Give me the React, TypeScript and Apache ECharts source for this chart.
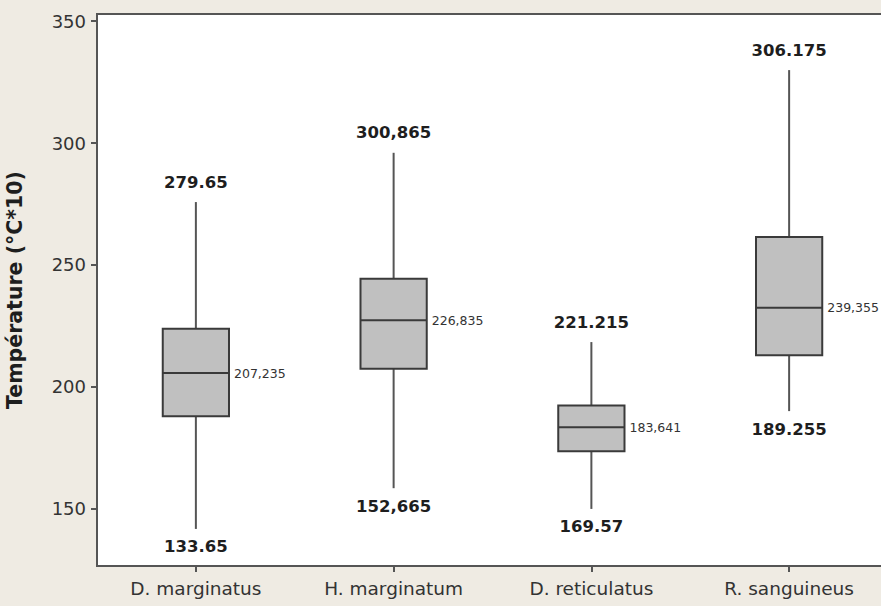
import React, { useEffect, useRef } from "react";
import * as echarts from "echarts";

const categories = ["D. marginatus", "H. marginatum", "D. reticulatus", "R. sanguineus"];
const whiskerLow = [141.8, 158.5, 150.0, 190.1];
const q1 = [188.0, 207.5, 173.6, 213.0];
const median = [205.7, 227.3, 183.5, 232.5];
const q3 = [223.9, 244.4, 192.4, 261.5];
const whiskerHigh = [275.8, 296.0, 218.4, 329.9];
const topLabels = ["279.65", "300,865", "221.215", "306.175"];
const bottomLabels = ["133.65", "152,665", "169.57", "189.255"];
const medianLabels = ["207,235", "226,835", "183,641", "239,355"];
const yTicks = [150, 200, 250, 300, 350];

const FONT = "'DejaVu Sans', Tahoma, sans-serif";

export default function App() {
  const ref = useRef<HTMLDivElement>(null);
  useEffect(() => {
    if (!ref.current) return;
    const chart = echarts.init(ref.current, undefined, { renderer: "svg" });
    const data = categories.map((c, i) => [i, whiskerLow[i], q1[i], median[i], q3[i], whiskerHigh[i]]);
    chart.setOption({
      animation: false,
      backgroundColor: "#EFEBE3",
      grid: {
        show: true,
        left: 97,
        top: 14,
        width: 791,
        height: 552,
        outerBoundsMode: "none",
        containLabel: false,
        backgroundColor: "#ffffff",
        borderColor: "#555555",
        borderWidth: 2,
      },
      xAxis: {
        type: "category",
        data: categories,
        boundaryGap: true,
        axisLine: { show: true, lineStyle: { color: "#555555", width: 2 } },
        axisTick: { show: true, alignWithLabel: true, length: 6, lineStyle: { color: "#555555", width: 2 } },
        axisLabel: { color: "#333333", fontSize: 18.5, fontFamily: FONT, margin: 13 },
        splitLine: { show: false },
      },
      yAxis: {
        type: "value",
        min: 126.6,
        max: 352.9,
        name: "Température (°C*10)",
        nameLocation: "middle",
        nameRotate: 90,
        nameGap: 72,
        nameTextStyle: { color: "#1e1e1e", fontSize: 20.5, fontWeight: "bold", fontFamily: FONT },
        axisLine: { show: true, lineStyle: { color: "#555555", width: 2 } },
        axisTick: { show: true, length: 6, customValues: yTicks, lineStyle: { color: "#555555", width: 2 } },
        axisLabel: { color: "#333333", fontSize: 18, fontFamily: FONT, margin: 11, customValues: yTicks },
        splitLine: { show: false },
      },
      series: [
        {
          type: "custom",
          clip: false,
          data,
          encode: { x: 0, y: [1, 2, 3, 4, 5] },
          renderItem: (params: any, api: any) => {
            const i = api.value(0);
            const pLow = api.coord([i, api.value(1)]);
            const pQ1 = api.coord([i, api.value(2)]);
            const pMed = api.coord([i, api.value(3)]);
            const pQ3 = api.coord([i, api.value(4)]);
            const pHigh = api.coord([i, api.value(5)]);
            const bw = api.size([1, 0])[0] * 0.335;
            const x = pLow[0];
            const idx = params.dataIndex;
            const whiskerStyle = { stroke: "#555555", lineWidth: 2 };
            const boxStroke = "#3a3a3a";
            return {
              type: "group",
              children: [
                { type: "line", shape: { x1: x, y1: pHigh[1], x2: x, y2: pQ3[1] }, style: whiskerStyle },
                { type: "line", shape: { x1: x, y1: pQ1[1], x2: x, y2: pLow[1] }, style: whiskerStyle },
                {
                  type: "rect",
                  shape: { x: x - bw / 2, y: pQ3[1], width: bw, height: pQ1[1] - pQ3[1] },
                  style: { fill: "#C0C0C0", stroke: boxStroke, lineWidth: 2 },
                },
                {
                  type: "line",
                  shape: { x1: x - bw / 2, y1: pMed[1], x2: x + bw / 2, y2: pMed[1] },
                  style: { stroke: boxStroke, lineWidth: 2 },
                },
                {
                  type: "text",
                  x: x,
                  y: pHigh[1] - 20,
                  style: {
                    text: topLabels[idx],
                    fill: "#1e1e1e",
                    fontSize: 16.5,
                    fontWeight: "bold",
                    fontFamily: FONT,
                    align: "center",
                    verticalAlign: "middle",
                  },
                },
                {
                  type: "text",
                  x: x,
                  y: pLow[1] + 18,
                  style: {
                    text: bottomLabels[idx],
                    fill: "#1e1e1e",
                    fontSize: 16.5,
                    fontWeight: "bold",
                    fontFamily: FONT,
                    align: "center",
                    verticalAlign: "middle",
                  },
                },
                {
                  type: "text",
                  x: x + bw / 2 + 5,
                  y: pMed[1],
                  style: {
                    text: medianLabels[idx],
                    fill: "#333333",
                    fontSize: 12.5,
                    fontFamily: FONT,
                    align: "left",
                    verticalAlign: "middle",
                  },
                },
              ],
            };
          },
        },
      ],
    });
    return () => chart.dispose();
  }, []);
  return (
    <div
      ref={ref}
      style={{ position: "fixed", left: 0, top: 0, width: 881, height: 606 }}
    />
  );
}
